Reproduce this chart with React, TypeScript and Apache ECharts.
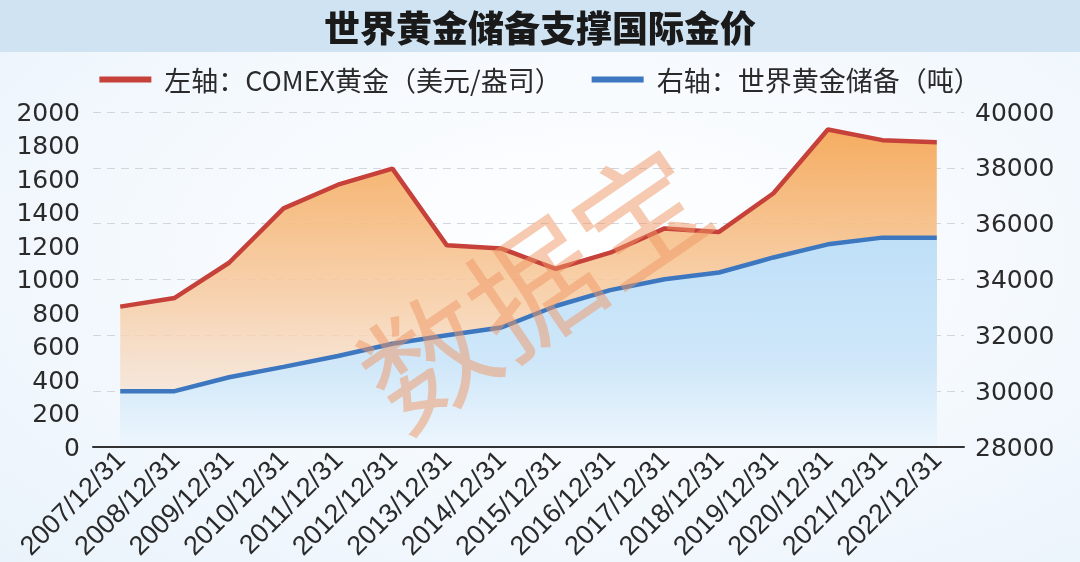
import React, { useEffect, useRef } from "react";
import * as echarts from "echarts";

const titleText = "世界黄金储备支撑国际金价";
const goldName = "左轴：COMEX黄金（美元/盎司）";
const reserveName = "右轴：世界黄金储备（吨）";
const watermark = "数据宝";

const categories = [
  "2007/12/31", "2008/12/31", "2009/12/31", "2010/12/31", "2011/12/31", "2012/12/31",
  "2013/12/31", "2014/12/31", "2015/12/31", "2016/12/31", "2017/12/31", "2018/12/31",
  "2019/12/31", "2020/12/31", "2021/12/31", "2022/12/31",
];
const goldPrice = [838, 890, 1100, 1425, 1566, 1662, 1204, 1185, 1064, 1160, 1305, 1284, 1515, 1896, 1832, 1820];
const goldReserves = [30000, 30000, 30500, 30870, 31260, 31700, 32000, 32280, 33050, 33620, 34010, 34250, 34790, 35260, 35500, 35500];

const leftAxis = { min: 0, max: 2000, interval: 200 };
const rightAxis = { min: 28000, max: 40000, interval: 2000 };

export default function App() {
  const ref = useRef<HTMLDivElement>(null);
  useEffect(() => {
    if (!ref.current) return;
    const chart = echarts.init(ref.current, undefined, { renderer: "svg" });
    const axisFont = { fontFamily: "DejaVu Sans", fontSize: 25, color: "#2a2a2a" };
    chart.setOption({
      animation: false,
      backgroundColor: "transparent",
      title: {
        text: titleText,
        left: "center",
        top: 3,
        textStyle: { fontFamily: "Noto Sans CJK SC", fontSize: 36, fontWeight: 900, color: "#1a1a1a" },
      },
      legend: {
        top: 61,
        left: "center",
        itemWidth: 52,
        itemHeight: 6,
        itemGap: 30,
        icon: "rect",
        textStyle: { fontFamily: "Noto Sans CJK SC", fontSize: 27, color: "#2a2a2a", padding: [0, 0, 0, 8] },
        data: [goldName, reserveName],
      },
      grid: { left: 93, right: 116, top: 112, bottom: 115, containLabel: false, outerBoundsMode: "none" },
      graphic: [
        { type: "rect", z: -10, shape: { x: 0, y: 0, width: 1080, height: 52 }, style: { fill: "#cfe3f2" } },
        {
          type: "text",
          z: 100,
          x: 530,
          y: 282,
          rotation: 0.6,
          style: {
            text: watermark,
            fontFamily: "Noto Sans CJK SC",
            fontSize: 128,
            fontWeight: "normal",
            fill: "rgba(240,150,100,0.5)",
            align: "center",
            verticalAlign: "middle",
          },
        },
      ],
      xAxis: {
        type: "category",
        data: categories,
        boundaryGap: true,
        z: 10,
        axisLine: { show: true, lineStyle: { color: "#333", width: 2 } },
        axisTick: { show: false },
        axisLabel: { interval: 0, rotate: 45, margin: 8, fontFamily: "Liberation Sans", fontSize: 27, color: "#2a2a2a" },
        splitLine: { show: false },
      },
      yAxis: [
        {
          type: "value",
          ...leftAxis,
          position: "left",
          axisLine: { show: false },
          axisTick: { show: false },
          splitLine: { show: false },
          axisLabel: { ...axisFont, margin: 13, formatter: (v: number) => String(v) },
        },
        {
          type: "value",
          ...rightAxis,
          position: "right",
          axisLine: { show: false },
          axisTick: { show: false },
          splitLine: { show: true, lineStyle: { color: "#d3d7db", type: [8, 6], width: 1 } },
          axisLabel: { ...axisFont, margin: 11, formatter: (v: number) => String(v) },
        },
      ],
      series: [
        {
          name: goldName,
          type: "line",
          yAxisIndex: 0,
          data: goldPrice,
          symbol: "none",
          z: 2,
          lineStyle: { color: "#c6413a", width: 4.5 },
          itemStyle: { color: "#c6413a" },
          areaStyle: {
            opacity: 1,
            color: new echarts.graphic.LinearGradient(0, 0, 0, 1, [
              { offset: 0, color: "rgba(245,168,88,0.95)" },
              { offset: 0.55, color: "rgba(247,205,165,0.85)" },
              { offset: 1, color: "rgba(246,236,230,0.6)" },
            ]),
          },
        },
        {
          name: reserveName,
          type: "line",
          yAxisIndex: 1,
          data: goldReserves,
          symbol: "none",
          z: 3,
          lineStyle: { color: "#3c77c0", width: 4.5 },
          itemStyle: { color: "#3c77c0" },
          areaStyle: {
            opacity: 1,
            color: new echarts.graphic.LinearGradient(0, 0, 0, 1, [
              { offset: 0, color: "#bfe0f8" },
              { offset: 0.6, color: "#cfe7f9" },
              { offset: 1, color: "#edf6fd" },
            ]),
          },
        },
      ],
    });
    return () => chart.dispose();
  }, []);
  return (
    <div
      style={{
        position: "fixed",
        left: 0,
        top: 0,
        width: 1080,
        height: 562,
        background: "radial-gradient(ellipse at 55% 45%, #ffffff 0%, #f6fafe 45%, #eaf3fb 100%)",
      }}
    >
      <div ref={ref} style={{ width: 1080, height: 562 }} />
    </div>
  );
}
